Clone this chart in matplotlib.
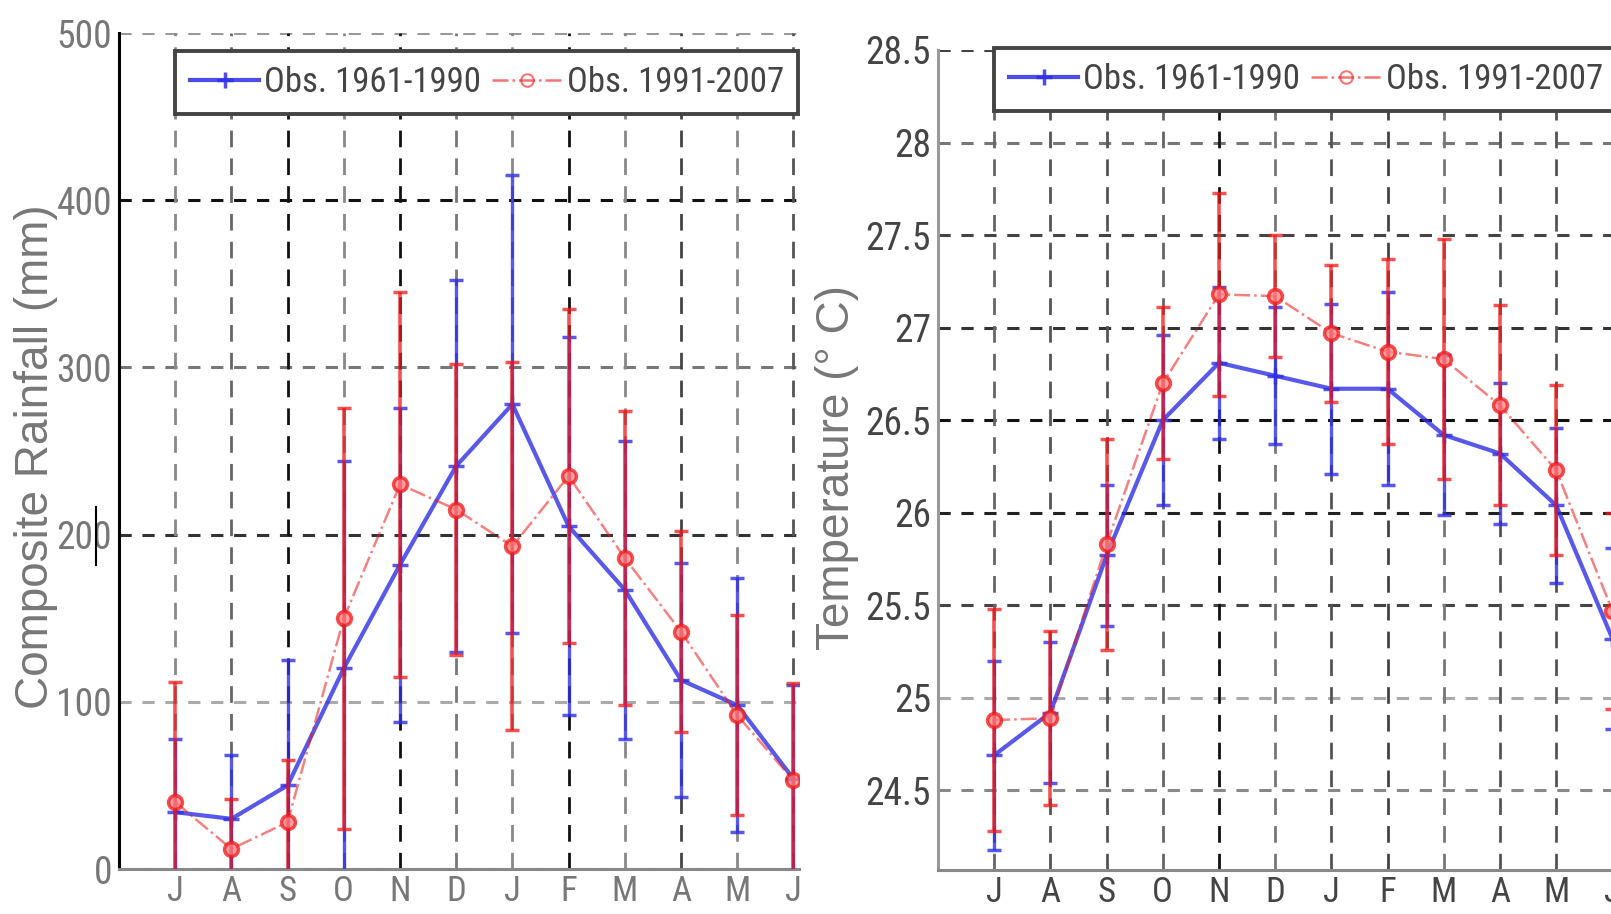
import matplotlib
matplotlib.use("Agg")
import matplotlib.pyplot as plt
from matplotlib import font_manager
from matplotlib.font_manager import FontProperties
from matplotlib.lines import Line2D
import numpy as np

# ---------------- data ----------------
months = ['J', 'A', 'S', 'O', 'N', 'D', 'J', 'F', 'M', 'A', 'M', 'J']

rain_old_mean = [34, 30, 50, 120, 182, 241, 278, 205, 167, 113, 98, 54]
rain_old_std = [44, 38, 75, 124, 94, 111, 137, 113, 89, 70, 76, 56]
rain_new_mean = [40, 12, 28, 150, 230, 215, 193, 235, 186, 142, 92, 53]
rain_new_std = [72, 30, 37, 126, 115, 87, 110, 100, 88, 60, 60, 58]

temp_old_mean = [24.69, 24.92, 25.77, 26.50, 26.81, 26.74, 26.67, 26.67, 26.42, 26.32, 26.04, 25.32]
temp_old_std = [0.51, 0.38, 0.38, 0.46, 0.41, 0.37, 0.46, 0.52, 0.43, 0.38, 0.42, 0.49]
temp_new_mean = [24.88, 24.89, 25.83, 26.70, 27.18, 27.17, 26.97, 26.87, 26.83, 26.58, 26.23, 25.47]
temp_new_std = [0.60, 0.47, 0.57, 0.41, 0.55, 0.33, 0.37, 0.50, 0.65, 0.54, 0.46, 0.53]

rain_yticks = [0, 100, 200, 300, 400, 500]
rain_yticklabels = ['0', '100', '200', '300', '400', '500']
temp_yticks = [24.5, 25, 25.5, 26, 26.5, 27, 27.5, 28, 28.5]
temp_yticklabels = ['24.5', '25', '25.5', '26', '26.5', '27', '27.5', '28', '28.5']

label_old = 'Obs. 1961-1990'
label_new = 'Obs. 1991-2007'

# ---------------- fonts ----------------
def find_narrow():
    files = [f.fname for f in font_manager.fontManager.ttflist]
    prefs = ['liberationsansnarrow-regular', 'robotocondensed-regular',
             'dejavusanscondensed.ttf', 'opensans_condensed-regular',
             'opensanscondensed-regular', 'notosans-condensed.ttf',
             'notosanscondensed-regular', 'notosans-condensed', 'robotocondensed']
    for p in prefs:
        for fn in files:
            if p in fn.lower().replace(' ', ''):
                return fn
    for fn in files:
        low = fn.lower()
        if ('narrow' in low or 'condensed' in low) and not any(
                k in low for k in ('bold', 'italic', 'oblique', 'light', 'thin', 'black',
                                   'medium', 'semi', 'extra')):
            return fn
    return None


narrow_file = find_narrow()
if narrow_file:
    def nfp(size):
        return FontProperties(fname=narrow_file, size=size)
    TICK_SIZE = 27
    XTICK_SIZE = 25
    LEG_SIZE = 25
else:
    def nfp(size):
        return FontProperties(family='Liberation Sans', size=size)
    TICK_SIZE = 22
    XTICK_SIZE = 21
    LEG_SIZE = 20

names = {f.name for f in font_manager.fontManager.ttflist}
regular = 'Liberation Sans' if 'Liberation Sans' in names else 'DejaVu Sans'

BLUE = '#2e2ee6'
RED = '#f01818'

W, H = 1611, 914
fig = plt.figure(figsize=(W / 100, H / 100), dpi=100)


def style_axes(ax, yticks, yticklabels, ylim, hcolors, vcolors, lcolor, tcolor):
    x = np.arange(1, len(months) + 1)
    ax.set_xlim(0, 12.1)
    ax.set_ylim(*ylim)
    ax.set_xticks(x)
    ax.set_xticklabels(months, color=tcolor)
    ax.set_yticks(yticks)
    ax.set_yticklabels(yticklabels, color=tcolor)
    for t in ax.get_yticklabels():
        t.set_fontproperties(nfp(TICK_SIZE))
    for t in ax.get_xticklabels():
        t.set_fontproperties(nfp(XTICK_SIZE))
    ax.tick_params(axis='both', length=0)
    ax.tick_params(axis='y', pad=5)
    ax.tick_params(axis='x', pad=4)
    for s in ('top', 'right'):
        ax.spines[s].set_visible(False)
    ax.spines['left'].set_color(lcolor)
    ax.spines['left'].set_linewidth(2.2)
    ax.spines['bottom'].set_color('#888888')
    ax.spines['bottom'].set_linewidth(2.2)
    for yv, c in zip(yticks, hcolors):
        ax.axhline(yv, color=c, lw=2.2, ls=(0, (4, 3.5)), zorder=1)
    for xv, c in zip(x, vcolors):
        ax.axvline(xv, color=c, lw=2.0, ls=(0, (6, 4)), zorder=1)


def draw_series(ax, mo, so, mn, sn):
    x = np.arange(1, len(months) + 1)
    ax.errorbar(x, mo, yerr=so, color=BLUE, lw=3, marker='+', ms=11, mew=2.5,
                elinewidth=2.4, capsize=5, capthick=3, alpha=0.8, zorder=3)
    ax.errorbar(x, mn, yerr=sn, color=RED, lw=0, marker='o', ms=10, mew=2.5,
                mfc='#ff8080', mec=RED, elinewidth=2.6, capsize=5, capthick=3,
                alpha=0.75, zorder=4)
    ax.plot(x, mn, color=RED, lw=1.8, ls='-.', alpha=0.55, zorder=4)


def add_legend(ax, top):
    h1 = Line2D([], [], color=BLUE, lw=3, marker='+', ms=11, mew=2.5, alpha=0.85)
    h2 = Line2D([], [], color=RED, lw=1.8, ls='-.', marker='o', ms=9, mew=1.5,
                mfc='none', alpha=0.6)
    leg = ax.legend([h1, h2], [label_old, label_new], ncol=2, loc='upper left',
                    bbox_to_anchor=(1 / 12.1, top),
                    frameon=True, fancybox=False,
                    prop=nfp(LEG_SIZE), handlelength=2.0,
                    handletextpad=0.15, columnspacing=0.3, borderpad=0.42,
                    borderaxespad=0.0)
    fr = leg.get_frame()
    fr.set_edgecolor('#444444')
    fr.set_linewidth(2.8)
    fr.set_facecolor('white')
    fr.set_alpha(1)
    for t in leg.get_texts():
        t.set_color('#444444')
    leg.set_zorder(10)
    return leg


# ---------------- left panel: rainfall ----------------
ax1 = fig.add_axes([119 / W, 45 / H, 680 / W, 836 / H])
style_axes(ax1, rain_yticks, rain_yticklabels, (0, 500),
           hcolors=['#888888', '#aaaaaa', '#333333', '#777777', '#111111', '#999999'],
           vcolors=['#888888', '#666666', '#111111', '#888888', '#111111', '#777777',
                    '#888888', '#111111', '#888888', '#444444', '#888888', '#555555'],
           lcolor='#000000', tcolor='#777777')
draw_series(ax1, rain_old_mean, rain_old_std, rain_new_mean, rain_new_std)
add_legend(ax1, 0.978)

# ---------------- right panel: temperature ----------------
ax2 = fig.add_axes([938 / W, 44 / H, 680 / W, 820 / H])
style_axes(ax2, temp_yticks, temp_yticklabels, (24.07, 28.5),
           hcolors=['#888888', '#aaaaaa', '#444444', '#222222', '#111111', '#333333',
                    '#444444', '#777777', '#444444'],
           vcolors=['#666666', '#555555', '#555555', '#666666', '#111111', '#777777',
                    '#555555', '#444444', '#777777', '#555555', '#555555', '#555555'],
           lcolor='#999999', tcolor='#444444')
draw_series(ax2, temp_old_mean, temp_old_std, temp_new_mean, temp_new_std)
add_legend(ax2, 1.002)

# ---------------- axis labels ----------------
fig.text(36 / W, 0.50, 'Composite Rainfall (mm)', rotation=90, ha='center', va='center',
         fontfamily=regular, fontsize=33, color='#777777')
fig.text(837 / W, 0.489, 'Temperature (° C)', rotation=90, ha='center', va='center',
         fontfamily=regular, fontsize=33, color='#777777')

# small vertical mark near the "200" label (present in the original image)
fig.add_artist(Line2D([96 / W, 96 / W], [1 - 507 / H, 1 - 565 / H], color='black', lw=1.5,
                      transform=fig.transFigure))

fig.savefig('out.png', dpi=100)
